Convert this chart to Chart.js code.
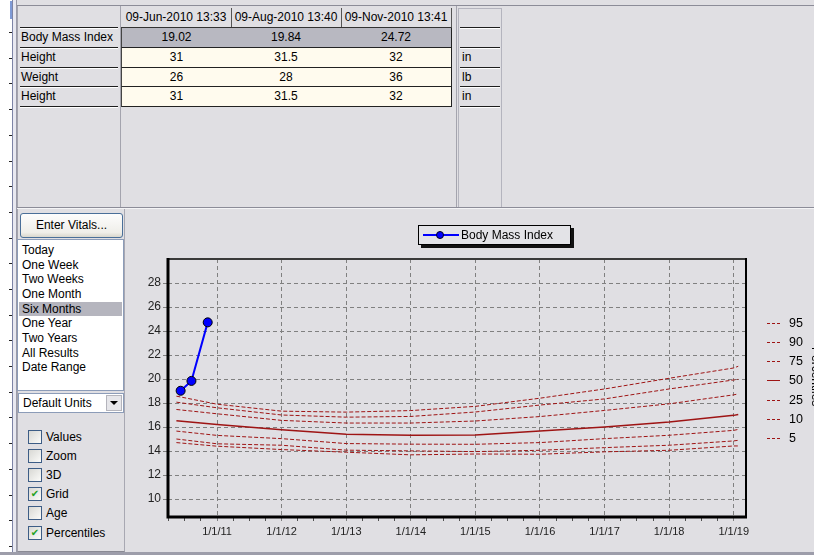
<!DOCTYPE html>
<html><head><meta charset="utf-8">
<script src="https://cdn.jsdelivr.net/npm/chart.js@4.4.0/dist/chart.umd.min.js"></script>
<style>
html,body{margin:0;padding:0;}
body{width:814px;height:555px;overflow:hidden;position:relative;background:#e0dfe3;font-family:"Liberation Sans",Arial,sans-serif;font-size:12px;color:#000;}
.a{position:absolute;box-sizing:border-box;white-space:nowrap;}
</style></head>
<body>
<canvas id="c" width="687" height="344" style="position:absolute;left:127px;top:208px;"></canvas>
<script>
// ---------- data ----------
const tableDates = ['09-Jun-2010 13:33', '09-Aug-2010 13:40', '09-Nov-2010 13:41'];
const tableRowLabels = ['Body Mass Index', 'Height', 'Weight', 'Height'];
const tableRowValues = [['19.02', '19.84', '24.72'], ['31', '31.5', '32'], ['26', '28', '36'], ['31', '31.5', '32']];
const tableRowUnits = ['', 'in', 'lb', 'in'];
const rangeItems = ['Today', 'One Week', 'Two Weeks', 'One Month', 'Six Months', 'One Year', 'Two Years', 'All Results', 'Date Range'];
const selectedRange = 'Six Months';
const optionItems = ['Values', 'Zoom', '3D', 'Grid', 'Age', 'Percentiles'];
const optionChecked = [false, false, false, true, false, true];

const bmiDates = ['2010-06-09', '2010-08-09', '2010-11-09'];
const bmiValues = [19.02, 19.84, 24.72];

const pctLabels = ['95', '90', '75', '50', '25', '10', '5'];
const pctYears = [2010.37, 2011, 2012, 2013, 2014, 2015, 2016, 2017, 2018, 2019, 2019.07];
const p95 = [18.57, 17.90, 17.32, 17.24, 17.37, 17.72, 18.40, 19.17, 20.06, 20.92, 21.06];
const p90 = [18.07, 17.60, 17.00, 16.82, 16.88, 17.25, 17.83, 18.34, 19.17, 19.92, 19.97];
const p75 = [17.46, 17.10, 16.55, 16.33, 16.33, 16.50, 16.87, 17.38, 17.93, 18.68, 18.76];
const p50 = [16.52, 16.20, 15.78, 15.39, 15.31, 15.33, 15.66, 16.00, 16.41, 16.97, 17.05];
const p25 = [15.66, 15.30, 15.03, 14.62, 14.57, 14.56, 14.70, 15.03, 15.31, 15.72, 15.80];
const p10 = [15.00, 14.60, 14.48, 14.07, 14.01, 13.95, 14.06, 14.28, 14.48, 14.84, 14.89];
const p5  = [14.70, 14.40, 14.12, 13.90, 13.68, 13.75, 13.73, 13.93, 14.06, 14.42, 14.42];
const pctSeries = [p95, p90, p75, p50, p25, p10, p5];

const yTicks = [10, 12, 14, 16, 18, 20, 22, 24, 26, 28];
const xTickYears = [2011, 2012, 2013, 2014, 2015, 2016, 2017, 2018, 2019];
const xTickLabels = ['1/1/11', '1/1/12', '1/1/13', '1/1/14', '1/1/15', '1/1/16', '1/1/17', '1/1/18', '1/1/19'];

const PCT_COLOR = '#9e1414';

// ---------- UI helpers ----------
function box(x, y, w, h, style, text) {
  const d = document.createElement('div');
  d.className = 'a';
  d.style.cssText = `left:${x}px;top:${y}px;width:${w}px;height:${h}px;` + (style || '');
  if (text !== undefined) d.textContent = text;
  document.body.appendChild(d);
  return d;
}

// left white strip with tick dashes
box(0, 0, 12, 555, 'background:#fff');
for (let y = 32; y < 555; y += 25.7) box(9, Math.round(y), 3, 1, 'background:#222');
box(10, 1, 4, 18, 'background:#7f9ad6');
box(12, 0, 5, 555, 'background:#e8e8f0;border-left:1px solid #7d84a6;border-right:1px solid #9a9aa8');

// top panel
box(17, 5, 797, 1, 'background:#8c8c98');
box(17, 207, 797, 1, 'background:#8c8c98');
box(17, 208, 797, 1, 'background:#f4f4f6');
box(17, 6, 1, 201, 'background:#a4a4ae');
box(120, 6, 1, 201, 'background:#a4a4ae');
box(456, 6, 1, 201, 'background:#a4a4ae');
// units column frame
box(458, 8, 44, 199, 'border:1px solid #b4b4be;border-bottom:none');

const rowTops = [8, 28, 48, 68, 87];
const rowHs = [20, 20, 20, 19, 20];
const colX = [122, 232, 342];
const colW = 110;

// header cells
tableDates.forEach((t, i) => {
  box(colX[i] - 1, rowTops[0], colW + 1, rowHs[0], 'border-right:1px solid #555;border-bottom:1px solid #333;text-align:center;line-height:19px', t);
});
// label column separators + labels
for (let r = 0; r < 5; r++) {
  box(20, rowTops[r] + rowHs[r] - 1, 98, 2, 'border-top:1px solid #1e1e1e;border-bottom:1px solid #ffffff');
  box(460, rowTops[r] + rowHs[r] - 1, 40, 2, 'border-top:1px solid #1e1e1e;border-bottom:1px solid #ffffff');
}
tableRowLabels.forEach((t, r) => {
  box(21, rowTops[r + 1], 98, rowHs[r + 1] - 1, 'line-height:19px', t);
  const bg = r === 0 ? '#b8b8c1' : '#fffbee';
  tableRowValues[r].forEach((v, c) => {
    box(colX[c] - 1, rowTops[r + 1], colW + 1, rowHs[r + 1], `background:${bg};border-right:1px solid #222;border-bottom:1px solid #222;border-left:${c === 0 ? '1px solid #444' : 'none'};text-align:center;line-height:18px`, v);
  });
  if (tableRowUnits[r]) box(462, rowTops[r + 1], 36, rowHs[r + 1] - 1, 'line-height:19px', tableRowUnits[r]);
});

// left lower panel
box(17, 209, 108, 343, 'border-left:1px solid #a4a4ae;border-right:1px solid #a8a8b2;border-bottom:1px solid #8a8a94');
box(20, 213, 103, 25, 'border:1px solid #4a6f99;border-radius:3px;background:linear-gradient(#fdfdfd,#efeee9 80%,#d9d7cd);text-align:center;line-height:23px', 'Enter Vitals...');
box(17, 239, 107, 152, 'background:#fff;border:1px solid #8c9cb8');
rangeItems.forEach((t, i) => {
  const y = 243 + i * 14.65;
  const sel = t === selectedRange;
  box(19, y, 103, 14.65, (sel ? 'background:#b5b5be;' : '') + 'padding-left:3px;line-height:14.6px', t);
});
box(18, 393, 106, 20, 'background:#fff;border:1px solid #8c9cb8;padding-left:4px;line-height:18px', 'Default Units');
box(106, 395, 16, 16, 'background:#e6e6ea;border:1px solid #b4b4bc');
box(110, 401, 0, 0, 'border-left:4px solid transparent;border-right:4px solid transparent;border-top:4px solid #000');
optionItems.forEach((t, i) => {
  const cy = [437, 456, 475, 494, 513, 533][i];
  box(28, cy - 7, 14, 14, 'border:1px solid #3d5d86;background:linear-gradient(135deg,#d8d8d4,#fbfbf9)');
  if (optionChecked[i]) box(28, cy - 7, 14, 14, 'color:#21a121;font-family:"DejaVu Sans";font-size:10px;font-weight:bold;text-align:center;line-height:14px', '\u2714');
  box(46, cy - 8, 70, 16, 'line-height:16px', t);
});
box(0, 552, 814, 3, 'background:#9d9daa');

// BMI legend
box(418, 225, 153, 20, 'border:1px solid #000;background:#e3e3e7;box-shadow:3px 3px 0 #111');
box(423, 234, 36, 2, 'background:#0000ff');
box(436, 231, 8, 8, 'background:#0000ff;border:1px solid #000022;border-radius:50%');
box(461, 226, 100, 18, 'line-height:18px', 'Body Mass Index');

// percentile legend
pctLabels.forEach((t, i) => {
  const cy = Math.round(322.7 + i * 19.25);
  if (t === '50') {
    box(767, cy, 13, 1, 'background:' + PCT_COLOR);
  } else {
    [0, 5, 10].forEach(dx => box(767 + dx, cy, 3, 1, 'background:' + PCT_COLOR));
  }
  box(789, cy - 8, 24, 16, 'line-height:16px;font-size:12.5px', t);
});
box(823, 347, 80, 14, 'transform-origin:left top;transform:rotate(90deg);font-size:12px;line-height:14px', 'Percentiles');

// ---------- chart ----------
function decYear(s) {
  const d = Date.parse(s + 'T00:00:00Z');
  const y = new Date(d).getUTCFullYear();
  const a = Date.UTC(y, 0, 1), b = Date.UTC(y + 1, 0, 1);
  return y + (d - a) / (b - a);
}
const X_MIN = 2010.24, X_MAX = 2019.19;
const minorTicks = [];
xTickYears.forEach(y => { [0.75, 0.5, 0.25].forEach(q => { const v = y - q; if (v > X_MIN) minorTicks.push(v); }); minorTicks.push(y); });

const datasets = [{
  label: 'Body Mass Index',
  data: bmiDates.map((d, i) => ({ x: decYear(d), y: bmiValues[i] })),
  borderColor: '#0000ff', backgroundColor: '#0000ff', borderWidth: 2,
  pointRadius: 4.5, pointBorderColor: '#000', pointBorderWidth: 1, pointBackgroundColor: '#0000ff', tension: 0
}];
pctLabels.forEach((lab, i) => {
  datasets.push({
    label: lab,
    data: pctYears.map((x, j) => ({ x, y: pctSeries[i][j] })),
    borderColor: PCT_COLOR, borderWidth: lab === '50' ? 1.5 : 1,
    borderDash: lab === '50' ? [] : [4, 2], pointRadius: 0, fill: false, tension: 0
  });
});

const frame = {
  id: 'frame',
  afterDatasetsDraw(chart) {
    const { ctx, chartArea: a } = chart;
    ctx.save();
    ctx.setLineDash([]);
    ctx.strokeStyle = '#3a3a3a'; ctx.lineWidth = 2;
    ctx.beginPath(); ctx.moveTo(a.left, a.top); ctx.lineTo(a.right, a.top); ctx.stroke();
    ctx.strokeStyle = '#000';
    ctx.beginPath(); ctx.moveTo(a.right, a.top - 1); ctx.lineTo(a.right, a.bottom); ctx.stroke();
    ctx.lineWidth = 3;
    ctx.beginPath(); ctx.moveTo(a.left, a.top - 1); ctx.lineTo(a.left, a.bottom); ctx.lineTo(a.right + 1, a.bottom); ctx.stroke();
    ctx.restore();
  }
};

new Chart(document.getElementById('c'), {
  type: 'line',
  data: { datasets },
  plugins: [frame],
  options: {
    responsive: false, animation: false,
    layout: { padding: { left: 0, top: 51, right: 68, bottom: 0 } },
    plugins: { legend: { display: false }, tooltip: { enabled: false } },
    scales: {
      x: {
        type: 'linear', min: X_MIN, max: X_MAX,
        afterBuildTicks: s => { s.ticks = minorTicks.map(v => ({ value: v })); },
        afterFit: s => { s.height = 35; },
        border: { display: false, dash: [4, 3] },
        grid: {
          color: c => (c.tick && xTickYears.includes(c.tick.value)) ? '#808080' : 'rgba(0,0,0,0)',
          lineWidth: 1, drawTicks: true, tickLength: 4,
          tickColor: c => (c.tick && xTickYears.includes(c.tick.value)) ? '#808080' : '#505050'
        },
        ticks: {
          autoSkip: false, maxRotation: 0, padding: 4, color: '#222',
          font: { family: '"Liberation Sans", Arial, sans-serif', size: 11 },
          callback: v => { const i = xTickYears.indexOf(v); return i >= 0 ? xTickLabels[i] : ''; }
        }
      },
      y: {
        type: 'linear', min: 8.5, max: 30,
        afterBuildTicks: s => { s.ticks = yTicks.map(v => ({ value: v })); },
        afterFit: s => { s.width = 41; },
        border: { display: false, dash: [4, 3] },
        grid: { color: '#808080', lineWidth: 1, tickLength: 5, tickColor: '#808080' },
        ticks: {
          padding: 2, color: '#222',
          font: { family: '"Liberation Sans", Arial, sans-serif', size: 12 },
          callback: v => String(v)
        }
      }
    }
  }
});
</script>
</body></html>
